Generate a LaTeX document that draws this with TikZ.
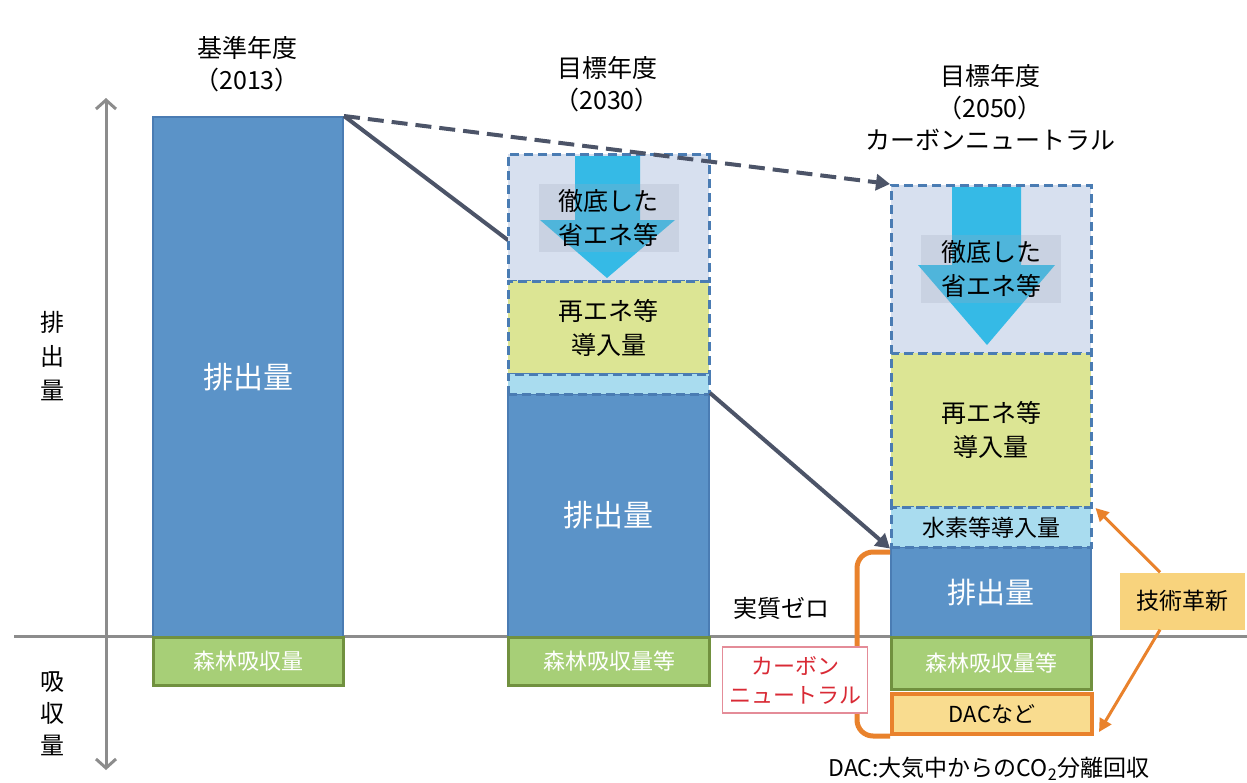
\documentclass[tikz,border=0pt]{standalone}
\usepackage{fontspec}
\setmainfont{Noto Sans CJK JP}
\usetikzlibrary{arrows.meta}
\usetikzlibrary{positioning,calc}
\definecolor{emitblue}{HTML}{5B93C8}
\definecolor{emitedge}{HTML}{4A7CB3}
\definecolor{savebg}{HTML}{D7E0EF}
\definecolor{savearrow}{HTML}{35BAE6}
\definecolor{tagfill}{HTML}{A0AABE}
\definecolor{renewbg}{HTML}{DCE594}
\definecolor{hydrobg}{HTML}{A9DCEF}
\definecolor{sinkbg}{HTML}{A7CF77}
\definecolor{sinkedge}{HTML}{71913F}
\definecolor{dacbg}{HTML}{F9DC8F}
\definecolor{techbg}{HTML}{F8D37D}
\definecolor{cnorange}{HTML}{E9822C}
\definecolor{trendgray}{HTML}{4C5468}
\definecolor{axisgray}{HTML}{8C8C8C}
\definecolor{cnred}{HTML}{D92A35}
\definecolor{cnpink}{HTML}{E48C98}
\tikzset{
    part/.style={rectangle, anchor=north west, inner sep=0pt, align=center},
    emitbar/.style={part, draw=emitedge, fill=emitblue, line width=2pt, text=white, font=\fontsize{30}{36}\selectfont},
    sinkbar/.style={part, draw=sinkedge, fill=sinkbg, line width=3pt, text=white, font=\fontsize{22}{26}\selectfont},
    dashbox/.style={part, draw=emitedge, line width=2.5pt, dash pattern=on 9pt off 5pt, font=\fontsize{25}{34}\selectfont},
    savetag/.style={rectangle, fill=tagfill, fill opacity=0.25, text opacity=1, align=center, minimum width=140pt, minimum height=68pt, font=\fontsize{25}{34}\selectfont},
    yearlabel/.style={align=center, font=\fontsize{25}{32}\selectfont},
    trend/.style={draw=trendgray, line width=4pt},
    techarrow/.style={-{Triangle[length=13pt,width=13pt]}, draw=cnorange, line width=3pt}
}
\begin{document}
\begin{tikzpicture}[x=1pt, y=-1pt]
    \useasboundingbox (0,0) rectangle (1247,782);

    % Axes
    \coordinate (axtop) at (106,98);
    \coordinate (axbot) at (106,770);
    \coordinate (zeroL) at (14,636);
    \coordinate (zeroR) at (1247,636);
    \draw [axisgray, line width=3pt] (zeroL) -- (zeroR);
    \draw [axisgray, line width=3pt, {Straight Barb[length=9pt,width=20pt]}-{Straight Barb[length=9pt,width=20pt]}] (axbot) -- (axtop);
    \node (emitaxis) [align=center, font=\fontsize{24}{34}\selectfont] at (52,356) {排\\出\\量};
    \node (sinkaxis) [align=center, font=\fontsize{24}{32}\selectfont] at (52,714) {吸\\収\\量};

    % Base year 2013
    \node (bar1) [emitbar, minimum width=190pt, minimum height=520pt] at (152,116) {排出量};
    \node (sink1) [sinkbar, minimum width=190pt, minimum height=48pt] at (152,636) {森林吸収量};
    \node (year1) [yearlabel] at (247,64) {基準年度\\（2013）};

    % Target year 2030
    \node (emit2) [emitbar, minimum width=201pt, minimum height=243pt] at (507,393) {排出量};
    \draw [trend] (bar1.north east) -- (emit2.north east);
    \node (save2) [dashbox, fill=savebg, minimum width=201pt, minimum height=127pt] at (507,153) {};
    \fill [savearrow] (575,156) -- (640,156) -- (640,220) -- (675,220) -- (607,278) -- (540,220) -- (575,220) -- cycle;
    \node (save2text) [savetag] at (save2.center) {徹底した\\省エネ等};
    \node (renew2) [dashbox, fill=renewbg, minimum width=201pt, minimum height=93pt] at (507,280) {再エネ等\\導入量};
    \node (hydro2) [dashbox, fill=hydrobg, minimum width=201pt, minimum height=20pt] at (507,373) {};
    \node (sink2) [sinkbar, minimum width=201pt, minimum height=48pt] at (507,636) {森林吸収量等};
    \node (year2) [yearlabel] at (607,84) {目標年度\\（2030）};

    % Target year 2050
    \node (save3) [dashbox, fill=savebg, minimum width=200pt, minimum height=168pt] at (890,184) {};
    \fill [savearrow] (952,187) -- (1021,187) -- (1021,265) -- (1055,265) -- (987,345) -- (918,265) -- (952,265) -- cycle;
    \node (save3text) [savetag] at (save3.center) {徹底した\\省エネ等};
    \node (renew3) [dashbox, fill=renewbg, minimum width=200pt, minimum height=154pt] at (890,352) {再エネ等\\導入量};
    \node (emit3) [emitbar, font=\fontsize{29}{32}\selectfont, minimum width=200pt, minimum height=90pt] at (890,546) {排出量};
    \node (hydro3) [dashbox, fill=hydrobg, font=\fontsize{23}{28}\selectfont, minimum width=200pt, minimum height=40pt] at (890,506) {水素等導入量};
    \node (sink3) [sinkbar, minimum width=200pt, minimum height=52pt] at (890,636) {森林吸収量等};
    \node (dac3) [part, draw=cnorange, fill=dacbg, line width=4pt, font=\fontsize{22}{26}\selectfont, minimum width=200pt, minimum height=40pt] at (890,692) {DACなど};
    \node (year3) [yearlabel] at (990,107) {目標年度\\（2050）\\カーボンニュートラル};

    % Trend arrows
    \draw [trend, -{Triangle[length=14pt,width=16pt]}] (emit2.north east) -- (hydro3.south west);
    \draw [trend, dash pattern=on 16pt off 8pt, -{Triangle[length=14pt,width=16pt]}] (bar1.north east) -- (save3.north west);

    % Carbon neutral bracket
    \draw [cnorange, line width=5pt, rounded corners=16pt] ([yshift=-6pt]emit3.north west) -| ([xshift=-33pt]dac3.south west) -- (dac3.south west);
    \node (cnbox) [rectangle, draw=cnpink, fill=white, line width=1.5pt, text=cnred, align=center, minimum width=145pt, minimum height=66pt, font=\fontsize{22}{29}\selectfont] at (795,680) {カーボン\\ニュートラル};
    \node (zero) [font=\fontsize{24}{28}\selectfont] at (781,608) {実質ゼロ};

    % Innovation
    \node (tech) [rectangle, fill=techbg, minimum width=125pt, minimum height=57pt, font=\fontsize{23}{28}\selectfont] at (1182,601) {技術革新};
    \draw [techarrow] ([xshift=-22pt]tech.north) -- ([xshift=3pt,yshift=-2pt]hydro3.north east);
    \draw [techarrow] ([xshift=-22pt]tech.south) -- ([xshift=5pt,yshift=4pt]dac3.south east);

    % Note
    \node (note) [font=\fontsize{23}{28}\selectfont] at (989,769) {DAC:大気中からのCO\textsubscript{2}分離回収};
\end{tikzpicture}
\end{document}
